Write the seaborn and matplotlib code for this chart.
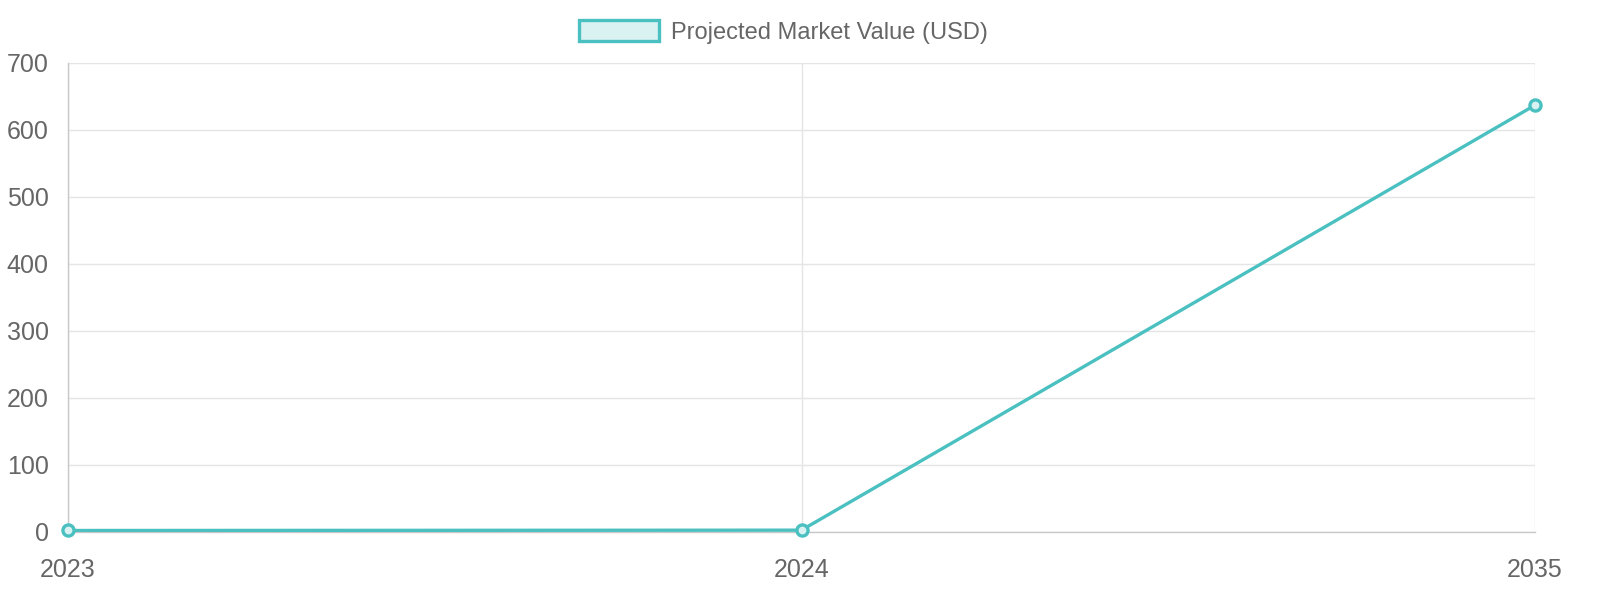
import numpy as np
import pandas as pd
import seaborn as sns
import matplotlib.pyplot as plt
from matplotlib.patches import Patch

# Data
years = ['2023', '2024', '2035']
market_value = [1.5, 2.0, 637]

df = pd.DataFrame({'year': years, 'value': market_value})

sns.set_style('white')
plt.rcParams['font.family'] = ['Liberation Sans', 'DejaVu Sans']

teal = '#4BC0C0'
grid_c = '#e5e5e5'
text_c = '#666666'

fig, ax = plt.subplots(figsize=(16, 6), dpi=100)
fig.subplots_adjust(left=68/1600, right=1535/1600, top=1-63/600, bottom=1-531.5/600)

x = np.arange(len(years))
sns.lineplot(x=x, y=df['value'], ax=ax, color=teal, linewidth=2.4, zorder=3)
ax.plot(x, df['value'], linestyle='none', marker='o', markersize=8,
        markerfacecolor='#DBF2F2', markeredgecolor=teal, markeredgewidth=2.4,
        zorder=4, clip_on=False)

ax.set_xlim(0, len(years) - 1)
ax.set_ylim(0, 700)
ax.set_xticks(x)
ax.set_xticklabels(years)
ax.set_yticks(range(0, 701, 100))
ax.set_xlabel('')
ax.set_ylabel('')

ax.grid(True, color=grid_c, linewidth=1)
ax.set_axisbelow(True)
for s in ['top', 'right']:
    ax.spines[s].set_visible(False)
for s in ['left', 'bottom']:
    ax.spines[s].set_color('#c8c8c8')
    ax.spines[s].set_linewidth(1)

ax.tick_params(axis='both', colors=grid_c, labelcolor=text_c, labelsize=18,
               length=7, width=1, direction='out')
ax.tick_params(axis='y', pad=7)
ax.tick_params(axis='x', pad=12)

handle = Patch(facecolor='#DBF2F2', edgecolor=teal, linewidth=2.4)
fig.legend(handles=[handle], labels=['Projected Market Value (USD)'],
           loc='center', bbox_to_anchor=(783/1600, 1 - 32/600), frameon=False,
           fontsize=17, labelcolor=text_c, handlelength=3.4, handleheight=1.0,
           handletextpad=0.5)

fig.savefig('out.png', dpi=100)
